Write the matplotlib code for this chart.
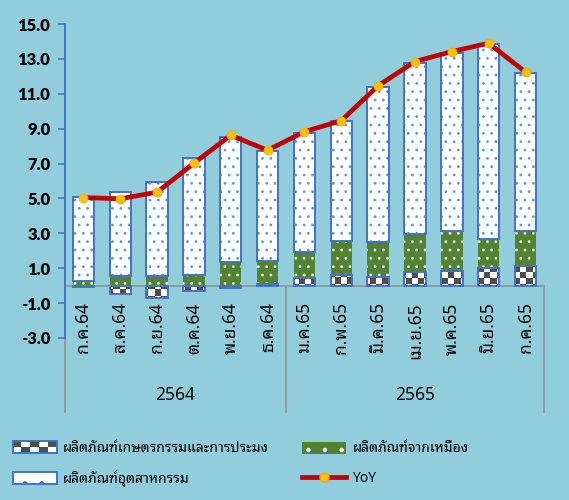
import matplotlib
matplotlib.use("Agg")
import matplotlib.pyplot as plt
import numpy as np
from matplotlib.patches import Rectangle, Patch
from matplotlib.lines import Line2D
from matplotlib.legend_handler import HandlerBase

months = ["ก.ค.64", "ส.ค.64", "ก.ย.64", "ต.ค.64", "พ.ย.64", "ธ.ค.64",
          "ม.ค.65", "ก.พ.65", "มี.ค.65", "เม.ย.65", "พ.ค.65", "มิ.ย.65", "ก.ค.65"]
years = ["2564", "2565"]
year_sizes = [6, 7]

agri = [-0.10, -0.50, -0.70, -0.30, -0.12, 0.12, 0.45, 0.64, 0.47, 0.79, 0.85, 1.02, 1.13]
sugar = [0.27, 0.54, 0.54, 0.64, 1.34, 1.30, 1.46, 1.90, 2.06, 2.19, 2.28, 1.64, 1.98]
industry = [4.84, 4.82, 5.39, 6.66, 7.20, 6.28, 6.84, 6.88, 8.87, 9.81, 10.23, 11.18, 9.07]
yoy = [5.05, 4.98, 5.36, 7.02, 8.62, 7.76, 8.83, 9.46, 11.46, 12.85, 13.42, 13.90, 12.24]

lbl_agri = "ผลิตภัณฑ์เกษตรกรรมและการประมง"
lbl_sugar = "ผลิตภัณฑ์จากเหมือง"
lbl_ind = "ผลิตภัณฑ์อุตสาหกรรม"
lbl_yoy = "YoY"

BG = "#92CDDC"
BLUE = "#4472C4"
DOT = "#5B9BD5"
GREEN = "#548235"
DARK = "#4D4D4D"
RED = "#C00000"
GOLD = "#FFC000"
GREY = "#8C9AA3"
THAI = ["Noto Sans Thai Looped", "DejaVu Sans"]

plt.rcParams["hatch.linewidth"] = 0.8

fig = plt.figure(figsize=(5.69, 5.0), dpi=100, facecolor=BG)
ax = fig.add_axes([0.1142, 0.324, 0.8418, 0.628])
ax.set_facecolor(BG)

x = np.arange(len(months))
agri_a = np.array(agri)
pos_base = np.clip(agri_a, 0, None)
w = 0.58

# agriculture: white face, checkerboard clipped in, blue edge on top
agri_bars = ax.bar(x, agri_a, w, color="white", linewidth=0, zorder=2)
ncol, nrow = 80, 52
checker = (np.add.outer(np.arange(nrow), np.arange(ncol)) % 2).astype(float)
for b in agri_bars:
    im = ax.imshow(checker, cmap=matplotlib.colors.ListedColormap(["white", DARK]),
                   extent=(-0.5, 12.5, -3, 15), aspect="auto",
                   interpolation="nearest", zorder=2.2)
    im.set_clip_path(b)
ax.bar(x, agri_a, w, facecolor="none", edgecolor=BLUE, linewidth=1.4, zorder=3)

# mining
ax.bar(x, sugar, w, bottom=pos_base, color=GREEN, edgecolor="#E8EFE0",
       linewidth=0, hatch="..", zorder=2)

# industry
ind_bottom = pos_base + np.array(sugar)
ax.bar(x, industry, w, bottom=ind_bottom, color="white", edgecolor=DOT,
       linewidth=0, hatch="..", zorder=2)
ax.bar(x, industry, w, bottom=ind_bottom, facecolor="none", edgecolor=BLUE,
       linewidth=1.4, zorder=3)

ax.plot(x, yoy, color=RED, linewidth=3.4, marker="o", markersize=6.5,
        markerfacecolor=GOLD, markeredgecolor="#F5A623", markeredgewidth=0.6,
        zorder=5, solid_capstyle="round")

ax.axhline(0, color=GREY, linewidth=1.4, zorder=2.5)

ax.set_xlim(-0.5, 12.5)
ax.set_ylim(-3, 15)
ax.set_yticks(np.arange(-3, 16, 2))
ax.set_yticklabels([f"{v:.1f}" for v in np.arange(-3, 16, 2)],
                   fontfamily="Lato", fontweight="heavy", fontsize=12)
ax.tick_params(axis="y", colors=BLUE, length=5, width=1.2, pad=5.5, labelcolor="black")
ax.set_xticks([])
for s in ["top", "right", "bottom"]:
    ax.spines[s].set_visible(False)
ax.spines["left"].set_color(BLUE)
ax.spines["left"].set_linewidth(1.4)

# multi-level category axis
trans = matplotlib.transforms.blended_transform_factory(ax.transData, ax.transAxes)
for i, m in enumerate(months):
    ax.text(i, -0.95, m, rotation=90, ha="center", va="top", fontsize=12.5,
            family=THAI, color="black")
edges = np.concatenate([[0], np.cumsum(year_sizes)]) - 0.5
for e in edges:
    ax.plot([e, e], [0.1656, -0.235], transform=trans, color=GREY,
            linewidth=1.4, clip_on=False)
for k, yr in enumerate(years):
    ax.text((edges[k] + edges[k + 1]) / 2, -0.18, yr, transform=trans,
            ha="center", va="center", fontsize=12.5, family=THAI)


class CheckerHandler(HandlerBase):
    def create_artists(self, legend, orig_handle, xdescent, ydescent,
                       width, height, fontsize, trans):
        arts = []
        nc, nr = 5, 2
        cw, ch = width / nc, height / nr
        for r in range(nr):
            for c in range(nc):
                col = DARK if (r + c) % 2 == 1 else "white"
                arts.append(Rectangle((-xdescent + c * cw, -ydescent + r * ch), cw, ch,
                                      facecolor=col, linewidth=0, transform=trans))
        arts.append(Rectangle((-xdescent, -ydescent), width, height, facecolor="none",
                              edgecolor=BLUE, linewidth=1.4, transform=trans))
        return arts


h_agri = Patch(label=lbl_agri)
h_ind = Patch(facecolor="white", edgecolor=BLUE, linewidth=1.4, hatch=".", label=lbl_ind)
h_sugar = Patch(facecolor=GREEN, edgecolor="white", linewidth=0, hatch=".", label=lbl_sugar)
h_yoy = Line2D([], [], color=RED, linewidth=3.4, marker="o", markersize=6.5,
               markerfacecolor=GOLD, markeredgecolor="#F5A623", label=lbl_yoy)

common = dict(frameon=False, loc="center left", handlelength=3.2, handleheight=0.95,
              handletextpad=0.45, labelspacing=1.05,
              prop={"family": THAI, "size": 10, "weight": "medium"},
              borderaxespad=0, borderpad=0)
leg1 = fig.legend(handles=[h_agri, h_ind], bbox_to_anchor=(0.022, 0.0725),
                  handler_map={h_agri: CheckerHandler()}, **common)
leg2 = fig.legend(handles=[h_sugar, h_yoy], bbox_to_anchor=(0.53, 0.0725), **common)

fig.savefig("out.png", dpi=100, facecolor=BG)
